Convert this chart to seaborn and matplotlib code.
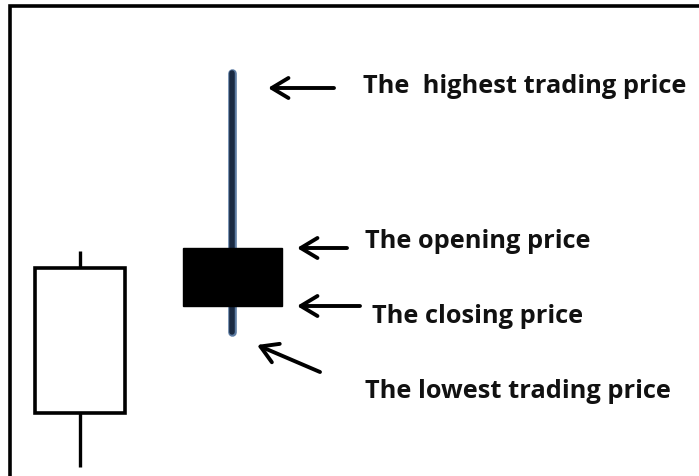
import matplotlib
matplotlib.use("Agg")
import matplotlib.pyplot as plt
import seaborn as sns
from matplotlib.patches import Rectangle

# ---- data: two candles (price units, bottom of picture = 0) ----
candles = ["white", "black"]
opens = [63, 228]
highs = [225, 403]
lows = [9, 144]
closes = [208, 170]

labels = ["The  highest trading price", "The opening price",
          "The closing price", "The lowest trading price"]

# ---- layout ----
candle_x = [80, 232]
box_w = [90, 99]

sns.set_theme(style="white")
plt.rcParams['font.family'] = ['Open Sans', 'DejaVu Sans']

fig = plt.figure(figsize=(6.99, 4.76), dpi=100)
ax = fig.add_axes([0, 0, 1, 1])
ax.set_xlim(0, 699)
ax.set_ylim(0, 476)
ax.axis("off")

# frame (only top and left edges visible)
ax.add_patch(Rectangle((9.5, -20), 720, 490.5, fill=False, ec="black", lw=2.6, zorder=1))

# left candle: hollow
x, w = candle_x[0], box_w[0]
lo_b, hi_b = min(opens[0], closes[0]), max(opens[0], closes[0])
ax.vlines(x, hi_b, highs[0], color="black", lw=2.4, zorder=2)
ax.vlines(x, lows[0], lo_b, color="black", lw=2.4, zorder=2)
ax.add_patch(Rectangle((x - w / 2, lo_b), w, hi_b - lo_b, fc="white", ec="black", lw=2.6, zorder=3))

# center candle: filled, blue wick
x, w = candle_x[1], box_w[1]
lo_b, hi_b = min(opens[1], closes[1]), max(opens[1], closes[1])
ax.plot([x, x], [lows[1], highs[1]], color="#5d7ca3", lw=6.2, solid_capstyle="round", zorder=2)
ax.plot([x, x], [lows[1], highs[1]], color="#1a2a42", lw=4, solid_capstyle="round", zorder=2)
ax.add_patch(Rectangle((x - w / 2, lo_b), w, hi_b - lo_b, fc="black", ec="black", lw=1, zorder=3))

# arrows and labels
arrow_kw = dict(arrowstyle="->,head_length=1.0,head_width=0.6", color="black", lw=2.8,
                shrinkA=0, shrinkB=0)
targets = [(268, highs[1] - 15), (297, opens[1]), (297, closes[1]), (257, lows[1] - 13)]
tails = [(334, highs[1] - 15), (347, opens[1]), (360, closes[1]), (320, lows[1] - 40)]
text_pos = [(363, 383), (365, 228), (372, 153), (365, 78)]
for lab, tgt, tl, tp in zip(labels, targets, tails, text_pos):
    ax.annotate("", xy=tgt, xytext=tl, arrowprops=arrow_kw)
    ax.text(tp[0], tp[1], lab, fontsize=18.3, fontweight="bold", color="#111111",
            ha="left", va="baseline")

fig.savefig("out.png", dpi=100)
